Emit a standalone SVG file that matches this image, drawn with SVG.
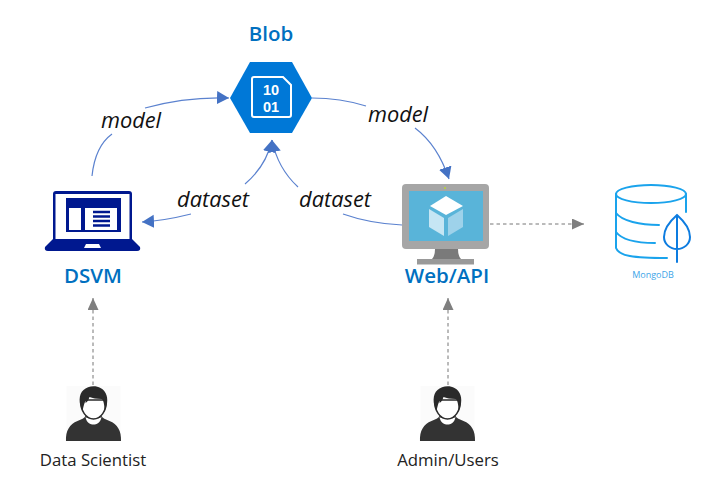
<svg xmlns="http://www.w3.org/2000/svg" width="714" height="496" viewBox="0 0 714 496">
<style>
text{font-family:"Open Sans","Noto Sans","Liberation Sans",sans-serif}
.title{font-size:20.500px;font-weight:600;fill:#0070c0;text-anchor:middle}
.edge{font-size:21.800px;font-style:italic;fill:#111;text-anchor:middle}
.who{font-size:16.800px;fill:#222;text-anchor:middle}
.bits{font-family:"Liberation Sans",Arial,sans-serif;font-size:14.500px;font-weight:700;fill:#fff;text-anchor:middle}
.flow{fill:none;stroke:#5b82cf;stroke-width:1.2}
.dash{fill:none;stroke:#777;stroke-width:1;stroke-dasharray:3.5 3}
.db{fill:none;stroke:#1aa3ec;stroke-width:2;stroke-linecap:round}
</style>
<defs>
<marker id="blue" markerUnits="userSpaceOnUse" markerWidth="14" markerHeight="14" refX="12" refY="6.500" orient="auto"><path d="M0 0L12 6.500L0 13Z" fill="#4472c4"/></marker>
<marker id="gray" markerUnits="userSpaceOnUse" markerWidth="14" markerHeight="12" refX="12" refY="5.500" orient="auto"><path d="M0 0L12 5.500L0 11Z" fill="#7f7f7f"/></marker>
<g id="person">
<rect x="-27" y="0" width="54" height="55" fill="#fbfbfb"/>
<path d="M-27.500 55C-28 45 -24 38 -16 35C-12 33.500 -9 32 -8 30L8 30C9 32 12 33.500 16 35C24 38 28 45 27.500 55Z" fill="#333"/>
<path d="M-8 31C-7 37 -3 38.500 0 38.500C3 38.500 7 37 8 31C6 33 -6 33 -8 31Z" fill="#fff"/>
<path d="M-12.500 14C-13.500 25 -7 33 0 33C7 33 13.500 25 12.500 14Z" fill="#fff" stroke="#2a2a2a" stroke-width="1.500"/>
<path d="M-11 25C-15 18 -15 8 -10 4C-6 0 2 -1 7 2C13 5 15 12 13 20L11 26C11 18 10 14 8 13C3 13 -1 12 -4 11C-5 14 -6 16 -8 17C-8 15 -8 14 -7 13C-9 16 -10 20 -11 25Z" fill="#2a2a2a"/>
</g>
</defs>

<g id="connectors">
<path class="flow" d="M92 176C94 157 101 142 112 134"/>
<path class="flow" d="M145 108C170 101 200 97 229 98" marker-end="url(#blue)"/>
<path class="flow" d="M312 98C332 98 350 101 366 106"/>
<path class="flow" d="M415 128C431 140 442 158 449 179" marker-end="url(#blue)"/>
<path class="flow" d="M245 184C258 173 268 158 272 140" marker-end="url(#blue)"/>
<path class="flow" d="M298 187C285 175 276 160 272 140" marker-end="url(#blue)"/>
<path class="flow" d="M191 214C175 218 160 221 142 222" marker-end="url(#blue)"/>
<path class="flow" d="M343 214C360 220 380 224 402 225"/>
<path class="dash" d="M490 224H584" marker-end="url(#gray)"/>
<path class="dash" d="M93 385V298" marker-end="url(#gray)"/>
<path class="dash" d="M448 385V298" marker-end="url(#gray)"/>
</g>

<g id="blob">
<path d="M230 98L250 62H292L312 98L292 133H250Z" fill="#0078d7"/>
<path d="M254 77H283L291 85V115Q291 117 289 117H254Q252 117 252 115V79Q252 77 254 77Z" fill="none" stroke="#fff" stroke-width="2"/>
<text class="bits" x="271" y="95">10</text>
<text class="bits" x="271" y="112">01</text>
<text class="title" x="271" y="41">Blob</text>
</g>

<g id="dsvm">
<path d="M56 191H129Q132 191 132 194V240H53V194Q53 191 56 191Z" fill="#00188f"/>
<rect x="55.500" y="194" width="74" height="46" fill="#fff"/>
<rect x="66" y="198" width="55" height="34" fill="#00188f"/>
<rect x="69" y="208" width="12" height="22" fill="#fff"/>
<rect x="85" y="208" width="32" height="22" fill="#fff"/>
<path d="M93 212H110M93 216.500H110M93 221H110M93 225.500H110" stroke="#00188f" stroke-width="2.500"/>
<path d="M53 239H132L140 247Q141 251 137 251H48Q44 251 45 247Z" fill="#00188f"/>
<path d="M84 248L86 244H99L101 248Z" fill="#fff"/>
<text class="title" x="93" y="283">DSVM</text>
</g>

<g id="webapi">
<rect x="402" y="184" width="87" height="65" rx="4" fill="#a6a6a6"/>
<rect x="409" y="191" width="74" height="50" fill="#59b4d9"/>
<circle cx="445" cy="188" r="1" fill="#b8d433"/>
<path d="M435 249H458Q458 256 461 259H432Q435 256 435 249Z" fill="#7a7a7a"/>
<rect x="417" y="259" width="57" height="5.500" fill="#999"/>
<path d="M446 196L463 206L446 215L430 206Z" fill="#fff"/>
<path d="M429 209L444 218V236L429 227Z" fill="#c6e6f4"/>
<path d="M448 218L463 209V227L448 236Z" fill="#9ed2ea"/>
<text class="title" x="447" y="283">Web/API</text>
</g>

<g id="mongodb">
<ellipse cx="651" cy="194" rx="35" ry="9" class="db"/>
<path class="db" d="M616 194V248C619 256 633 258 667 258"/>
<path class="db" d="M686 194V212"/>
<path class="db" d="M616 213C622 221 640 225 659 225"/>
<path class="db" d="M616 232C622 240 638 243 655 243"/>
<path d="M677 215C685 222 690 230 690 237C690 244 684 249 677 249C670 249 664 244 664 237C664 230 669 222 677 215ZM677 215V262" fill="none" stroke="#0d7ce0" stroke-width="2" stroke-linecap="round"/>
<text x="653" y="278" font-size="9px" fill="#3da5e8" text-anchor="middle">MongoDB</text>
</g>

<g id="data-scientist">
<use href="#person" x="93.500" y="386"/>
<text class="who" x="93" y="466">Data Scientist</text>
</g>
<g id="admin-users">
<use href="#person" x="447.500" y="386"/>
<text class="who" x="448" y="466">Admin/Users</text>
</g>

<g id="edge-labels">
<text class="edge" x="131" y="128">model</text>
<text class="edge" x="398" y="122">model</text>
<text class="edge" x="213" y="207">dataset</text>
<text class="edge" x="335" y="207">dataset</text>
</g>
</svg>
